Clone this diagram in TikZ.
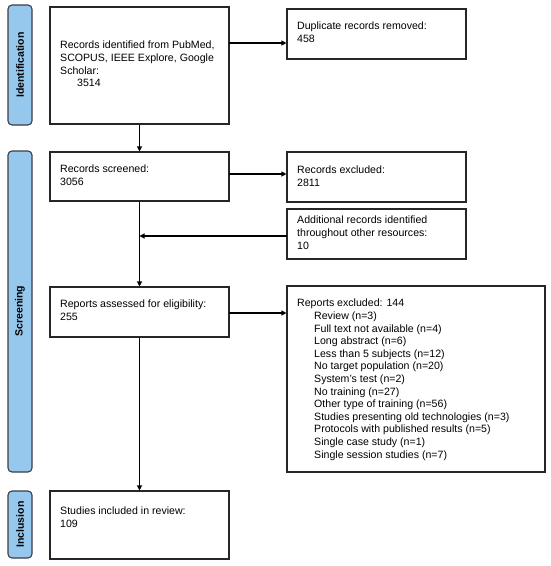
\documentclass[tikz,border=0pt]{standalone}
\usepackage{fontspec}
\setmainfont{Liberation Sans}
\usetikzlibrary{arrows.meta}
\definecolor{barblue}{RGB}{150,200,238}
\definecolor{bardraw}{RGB}{60,60,70}
\tikzset{
  box/.style={draw=black!85, line width=1.1pt, fill=white, inner sep=0pt},
  bar/.style={draw=bardraw, line width=1.1pt, fill=barblue, rounded corners=4pt, inner sep=0pt},
  bartext/.style={rotate=90, font=\fontsize{10.5}{12}\selectfont\bfseries, inner sep=0pt},
  txt/.style={anchor=north west, align=left, inner sep=0pt, font=\fontsize{10.6}{12.6}\selectfont},
  arr/.style={line width=1.1pt, -{Triangle[length=5pt,width=5pt]}},
}
\begin{document}
\begin{tikzpicture}[x=1pt,y=-1pt]
\useasboundingbox (0,0) rectangle (550,566);
% side bars
\draw[bar] (8,5) rectangle (32,125);
\node[bartext] (lid) at (20,65) {Identification};
\draw[bar] (8,151) rectangle (32,472);
\node[bartext] (lsc) at (20,311) {Screening};
\draw[bar] (8,491) rectangle (32,558);
\node[bartext] (lin) at (20,524.5) {Inclusion};
% boxes
\draw[box] (50,7) rectangle (229,124); \coordinate (b1n) at (139.5,7);
\node[box, draw=none, fill=none, minimum width=179pt, minimum height=117pt] (b1) at (139.5,65.5) {};
\node[box, minimum width=179pt, minimum height=50pt] (dup) at (376.5,34) {};
\node[box, minimum width=179pt, minimum height=49pt] (scr) at (139.5,176.5) {};
\node[box, minimum width=179pt, minimum height=50pt] (exc) at (376.5,177) {};
\node[box, minimum width=179pt, minimum height=50pt] (add) at (376.5,234) {};
\node[box, minimum width=179pt, minimum height=50pt] (rep) at (139.5,312) {};
\node[box, minimum width=258pt, minimum height=186pt] (rex) at (416,379) {};
\node[box, minimum width=179pt, minimum height=68pt] (inc) at (139.5,525) {};
% texts
\node[txt] (t1) at (60,41) {Records identified from PubMed,\\SCOPUS, IEEE Explore, Google\\Scholar:\\\hspace{17pt}3514};
\node[txt] (t2) at (297,22) {Duplicate records removed:\\458};
\node[txt] (t3) at (60,165) {Records screened:\\3056};
\node[txt] (t4) at (297,166) {Records excluded:\\2811};
\node[txt] (t5) at (297,216) {Additional records identified\\throughout other resources:\\10};
\node[txt] (t6) at (60,300) {Reports assessed for eligibility:\\255};
\node[txt] (t7) at (297,299) {Reports excluded: 144\\
\hspace{17pt}Review (n=3)\\
\hspace{17pt}Full text not available (n=4)\\
\hspace{17pt}Long abstract (n=6)\\
\hspace{17pt}Less than 5 subjects (n=12)\\
\hspace{17pt}No target population (n=20)\\
\hspace{17pt}System’s test (n=2)\\
\hspace{17pt}No training (n=27)\\
\hspace{17pt}Other type of training (n=56)\\
\hspace{17pt}Studies presenting old technologies (n=3)\\
\hspace{17pt}Protocols with published results (n=5)\\
\hspace{17pt}Single case study (n=1)\\
\hspace{17pt}Single session studies (n=7)};
\node[txt] (t8) at (60,507) {Studies included in review:\\109};
% connectors
\coordinate (m1) at (229,43);
\draw[arr] (m1) -- (m1 -| dup.west);
\draw[arr] (b1.south) -- (scr.north);
\coordinate (m2) at (229,174);
\draw[arr] (m2) -- (m2 -| exc.west);
\draw[arr] (scr.south) -- (rep.north);
\coordinate (m3) at (287,236);
\draw[arr] (m3) -- (m3 -| scr.south);
\coordinate (m4) at (229,313);
\draw[arr] (m4) -- (m4 -| rex.west);
\draw[arr] (rep.south) -- (inc.north);
\end{tikzpicture}
\end{document}
